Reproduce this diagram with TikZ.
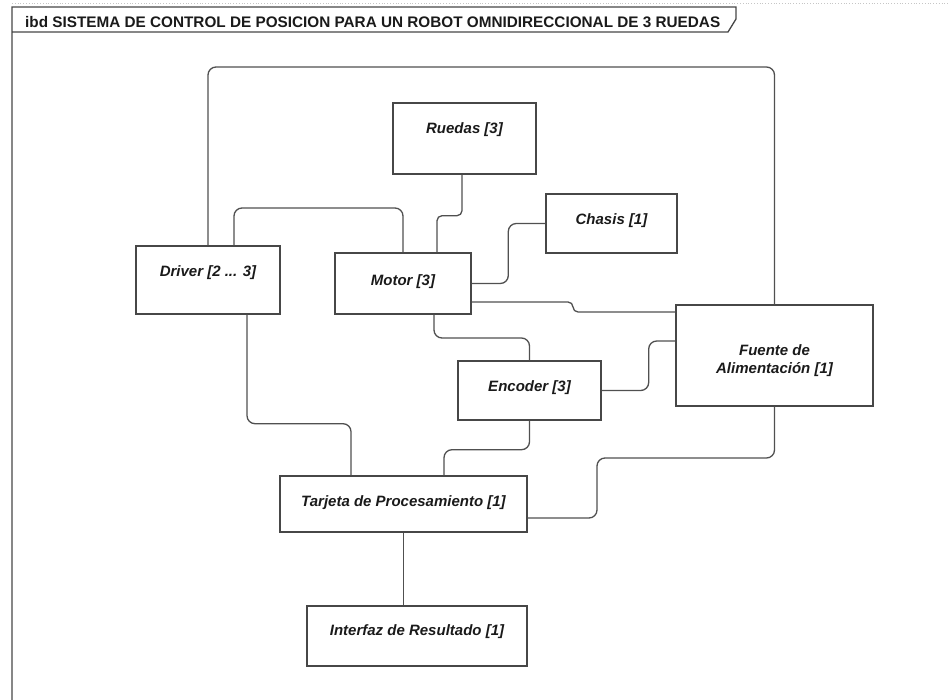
\documentclass[tikz,border=0pt]{standalone}
\usepackage{fontspec}
\setmainfont{Liberation Sans}
\usepackage{tikz}
\usetikzlibrary{positioning,calc}
\definecolor{partedge}{HTML}{474747}
\definecolor{wireedge}{HTML}{505050}
\definecolor{parttext}{HTML}{1A1A1A}
\begin{document}
\begin{tikzpicture}[
  x=1pt, y=-1pt,
  part/.style={draw=partedge, line width=1.4pt, inner sep=0pt, text height=11pt, text=parttext,
    font=\fontsize{15}{18}\selectfont\bfseries\itshape, align=center},
  wire/.style={draw=wireedge, line width=1.3pt, rounded corners=8pt},
  jog/.style={wire, rounded corners=5pt}
]
  \useasboundingbox (0,0) rectangle (950,700);
  % frame and header
  \draw[gray!45, dotted, line width=0.8pt] (12,3) -- (950,3);
  \draw[partedge, line width=1.3pt] (12,700) -- (12,7) -- (736,7) -- (736,19) -- (728,32) -- (12,32);
  \node[anchor=base west, text=parttext, font=\fontsize{15.3}{18}\selectfont\bfseries, inner sep=0pt] (titulo) at (25,28)
    {ibd SISTEMA DE CONTROL DE POSICION PARA UN ROBOT OMNIDIRECCIONAL DE 3 RUEDAS};

  % parts
  \node[part, minimum width=143pt, minimum height=71pt, text depth=21pt] (ruedas) at (464.5,138.5) {Ruedas [3]};
  \node[part, minimum width=131pt, minimum height=59pt, text depth=9pt] (chasis) at (611.5,223.5) {Chasis [1]};
  \node[part, minimum width=144pt, minimum height=68pt, text depth=18pt] (driver) at (208,280) {Driver [2 ... 3]};
  \node[part, minimum width=136pt, minimum height=61pt, text depth=7pt] (motor) at (403,283.5) {Motor [3]};
  \node[part, minimum width=197pt, minimum height=101pt, text height=39pt, text depth=3pt] (fuente) at (774.5,355.5) {Fuente de\\Alimentación [1]};
  \node[part, minimum width=143pt, minimum height=59pt, text depth=9pt] (encoder) at (529.5,390.5) {Encoder [3]};
  \node[part, minimum width=247pt, minimum height=56pt, text depth=6pt] (tarjeta) at (403.5,504) {Tarjeta de Procesamiento [1]};
  \node[part, minimum width=220pt, minimum height=60pt, text depth=12pt] (interfaz) at (417,636) {Interfaz de Resultado [1]};

  % connectors
  \draw[wire] (driver.north) |- (fuente.north |- 0,67) -- (fuente.north);
  \draw[wire] ([xshift=26pt]driver.north) |- (motor.north |- 0,208) -- (motor.north);
  \draw[jog] ([xshift=-2.5pt]ruedas.south) -- ++(0,41) -| ([xshift=34pt]motor.north);
  \draw[wire] (chasis.west) -- ++(-37,0) |- (motor.east);
  \draw[jog] ([yshift=-18.5pt]motor.east) -| (573,312) -- ([yshift=43.5pt]fuente.west);
  \draw[wire] ([xshift=31pt]motor.south) |- (encoder.north |- 0,338) -- (encoder.north);
  \draw[wire] (encoder.east) -- ++(47,0) |- ([yshift=14.5pt]fuente.west);
  \draw[wire] (encoder.south) -- ++(0,29) -| ([xshift=40.5pt]tarjeta.north);
  \draw[wire] ([xshift=39pt]driver.south) -- ++(0,109) -| ([xshift=-52.5pt]tarjeta.north);
  \draw[wire] (fuente.south) |- (597,458) |- ([yshift=-14pt]tarjeta.east);
  \draw[wire] (tarjeta.south) -- (tarjeta.south |- interfaz.north);
\end{tikzpicture}
\end{document}
